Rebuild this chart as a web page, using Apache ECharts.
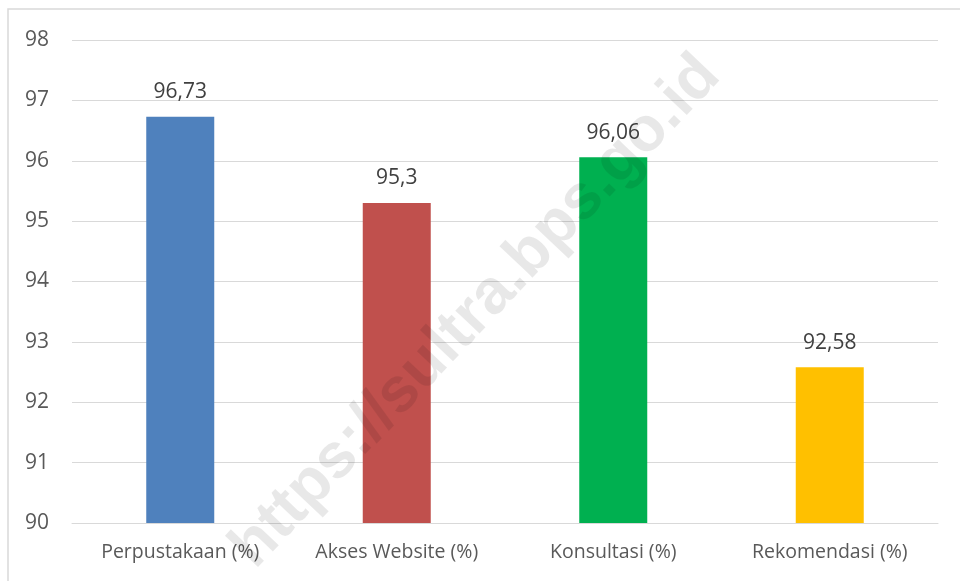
<!DOCTYPE html>
<html>
<head>
<meta charset="utf-8">
<script src="https://cdn.jsdelivr.net/npm/echarts@6/dist/echarts.min.js"></script>
<style>
  html, body { margin: 0; padding: 0; background: #fff; }
  #chart { width: 960px; height: 581px; }
</style>
</head>
<body>
<div id="chart"></div>
<script>
const categories = [ 'Perpustakaan (%)', 'Akses Website (%)', 'Konsultasi (%)', 'Rekomendasi (%)' ];
const values = [ 96.73, 95.3, 96.06, 92.58 ];
const labels = [ '96,73', '95,3', '96,06', '92,58' ];
const barColors = [ '#4f81bd', '#c0504d', '#00b050', '#ffc000' ];

const font = 'Open Sans, Noto Sans, sans-serif';

const chart = echarts.init( document.getElementById( 'chart' ) );

chart.setOption({
    animation: false,
    grid: {
        left: 72,
        right: 22,
        top: 40,
        bottom: 58,
        containLabel: false
    },
    xAxis: {
        type: 'category',
        data: categories,
        axisLine: { lineStyle: { color: '#d9d9d9', width: 1 } },
        axisTick: { show: false },
        axisLabel: {
            interval: 0,
            hideOverlap: false,
            color: '#595959',
            fontSize: 19.5,
            fontFamily: font,
            margin: 19
        }
    },
    yAxis: {
        type: 'value',
        min: 90,
        max: 98,
        interval: 1,
        axisLine: { show: false },
        axisTick: { show: false },
        splitLine: { lineStyle: { color: '#d9d9d9', width: 1 } },
        axisLabel: {
            color: '#595959',
            fontSize: 21,
            fontFamily: font,
            margin: 23,
            align: 'right'
        }
    },
    series: [
        {
            type: 'bar',
            barWidth: 68,
            data: values.map(( v, i ) => ({
                value: v,
                itemStyle: { color: barColors[i] }
            })),
            label: {
                show: true,
                position: 'top',
                distance: 14,
                color: '#404040',
                fontSize: 21,
                fontFamily: font,
                formatter: p => labels[p.dataIndex]
            }
        }
    ],
    graphic: [
        {
            type: 'rect',
            shape: { x: 8, y: 9, width: 960, height: 600 },
            style: { fill: 'none', stroke: '#d9d9d9', lineWidth: 1.5 },
            silent: true
        },
        {
            type: 'text',
            x: 476,
            y: 312,
            rotation: 46.5 * Math.PI / 180,
            z: 100,
            style: {
                text: 'https://sultra.bps.go.id',
                fill: 'rgba(0,0,0,0.09)',
                font: 'bold 63px "Liberation Sans", Arial, sans-serif',
                align: 'center',
                verticalAlign: 'middle'
            },
            silent: true
        }
    ]
});
</script>
</body>
</html>
